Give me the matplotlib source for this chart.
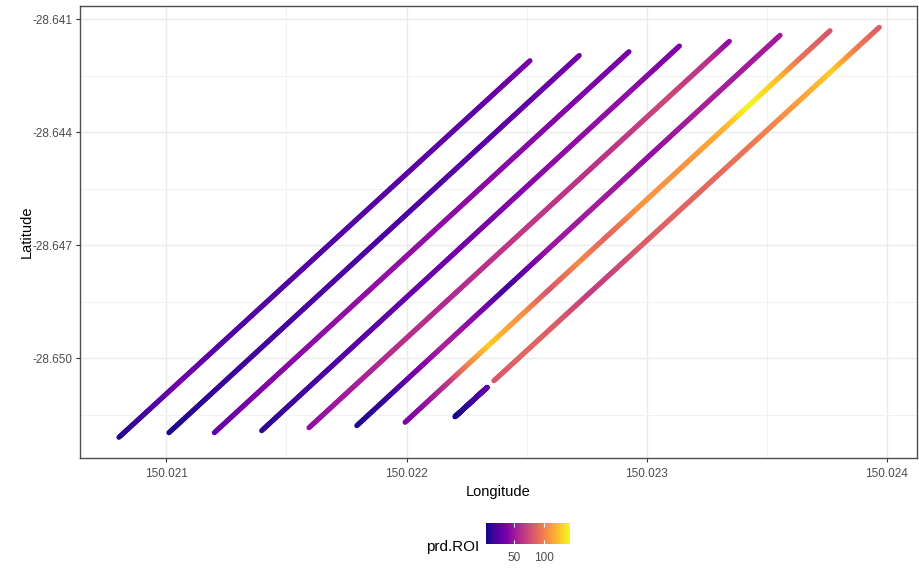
import numpy as np
import matplotlib
matplotlib.use("Agg")
import matplotlib.pyplot as plt
from matplotlib.collections import LineCollection
from matplotlib.colors import Normalize
from matplotlib.ticker import FixedLocator, FuncFormatter

plt.rcParams['font.family'] = ['Liberation Sans', 'DejaVu Sans']

# Harvester passes (decimal degrees). The eighth pass is split in two by a gap.
start_lon = [150.020803, 150.021011, 150.021200, 150.021397, 150.021594,
             150.021793, 150.021994, 150.022202, 150.022364]
start_lat = [-28.652097, -28.651975, -28.651975, -28.651922, -28.651843,
             -28.651789, -28.651699, -28.651551, -28.650595]
end_lon = [150.022514, 150.022719, 150.022926, 150.023136, 150.023344,
           150.023555, 150.023763, 150.022336, 150.023968]
end_lat = [-28.642099, -28.641961, -28.641860, -28.641709, -28.641584,
           -28.641425, -28.641303, -28.650770, -28.641212]

# Predicted ROI along each pass, keyed by longitude
roi_lon = [
    [150.020803, 150.020932, 150.021057, 150.021224, 150.021557, 150.021973,
     150.022306, 150.022514],
    [150.021011, 150.021224, 150.021557, 150.021973, 150.022389, 150.022719],
    [150.021200, 150.021390, 150.021640, 150.021973, 150.022306, 150.022639,
     150.022926],
    [150.021397, 150.021557, 150.021806, 150.022098, 150.022389, 150.022681,
     150.022930, 150.023136],
    [150.021594, 150.021765, 150.021973, 150.022181, 150.022473, 150.022806,
     150.023097, 150.023264, 150.023344],
    [150.021793, 150.021931, 150.022056, 150.022160, 150.022285, 150.022418,
     150.022493, 150.022597, 150.022806, 150.023014, 150.023222, 150.023409,
     150.023555],
    [150.021994, 150.022077, 150.022181, 150.022252, 150.022348, 150.022418,
     150.022502, 150.022597, 150.022722, 150.022835, 150.022972, 150.023180,
     150.023318, 150.023430, 150.023493, 150.023555, 150.023638, 150.023763],
    [150.022202, 150.022264, 150.022336],
    [150.022364, 150.022485, 150.022627, 150.022764, 150.022860, 150.022972,
     150.023110, 150.023318, 150.023526, 150.023667, 150.023776, 150.023876,
     150.023968],
]
roi_val = [
    [7, 20, 34, 23, 23, 25, 27, 37],
    [6, 14, 20, 21, 25, 34],
    [28, 39, 45, 46, 43, 40, 36],
    [11, 17, 25, 31, 38, 45, 45, 37],
    [45, 53, 62, 59, 66, 63, 73, 62, 45],
    [7, 14, 38, 56, 42, 17, 28, 49, 53, 45, 55, 52, 52],
    [38, 45, 66, 98, 129, 115, 104, 80, 104, 87, 108, 108, 118, 143, 133,
     122, 94, 80],
    [3, 14, 28],
    [80, 88, 84, 68, 72, 82, 87, 90, 101, 115, 129, 98, 84],
]

x_ticks = [150.021, 150.022, 150.023, 150.024]
y_ticks = [-28.650, -28.647, -28.644, -28.641]
cbar_ticks = [50, 100]

W, H = 920, 569
fig = plt.figure(figsize=(W / 100, H / 100), dpi=100)
ax = fig.add_axes([80.3 / W, 1 - 458 / H, (917 - 80.3) / W, (458 - 5.7) / H])

all_vals = np.concatenate([np.asarray(v, float) for v in roi_val])
norm = Normalize(vmin=all_vals.min(), vmax=all_vals.max())
cmap = plt.get_cmap('plasma')

mappable = None
for i in range(len(start_lon)):
    # fine subdivision of the pass so the colour can change smoothly along it
    n = 200
    lon = np.linspace(start_lon[i], end_lon[i], n)
    lat = np.linspace(start_lat[i], end_lat[i], n)
    pts = np.column_stack([lon, lat]).reshape(-1, 1, 2)
    segs = np.concatenate([pts[:-1], pts[1:]], axis=1)
    mid_lon = 0.5 * (lon[:-1] + lon[1:])
    vals = np.interp(mid_lon, roi_lon[i], roi_val[i])
    lc = LineCollection(segs, cmap=cmap, norm=norm, linewidths=3.7,
                        capstyle='round', joinstyle='round', zorder=3)
    lc.set_array(vals)
    ax.add_collection(lc)
    mappable = lc

ax.set_xlim(150.020642, 150.024125)
ax.set_ylim(-28.652647, -28.640639)

ax.xaxis.set_major_locator(FixedLocator(x_ticks))
ax.yaxis.set_major_locator(FixedLocator(y_ticks))
ax.xaxis.set_minor_locator(FixedLocator([150.0205, 150.0215, 150.0225, 150.0235]))
ax.yaxis.set_minor_locator(FixedLocator([-28.6515, -28.6485, -28.6455, -28.6425]))
ax.xaxis.set_major_formatter(FuncFormatter(lambda v, p: f"{v:.3f}"))
ax.yaxis.set_major_formatter(FuncFormatter(lambda v, p: f"{v:.3f}".replace('\u2212', '-')))

ax.grid(True, which='major', color='#EBEBEB', linewidth=1.0, zorder=0)
ax.grid(True, which='minor', color='#F2F2F2', linewidth=0.7, zorder=0)
ax.set_axisbelow(True)
ax.tick_params(which='major', length=3, width=0.8, color='#333333',
               labelsize=8.5, labelcolor='#4D4D4D', pad=2.5)
ax.tick_params(axis='x', which='major', pad=4)
ax.tick_params(which='minor', length=0)
for sp in ax.spines.values():
    sp.set_color('#4D4D4D')
    sp.set_linewidth(1.0)

fig.text(498.6 / W, 1 - 492 / H, 'Longitude', ha='center', va='center',
         fontsize=10.5, color='black')
fig.text(27 / W, 1 - 232 / H, 'Latitude', ha='center', va='center',
         rotation=90, fontsize=10.5, color='black')

# colour bar legend at the bottom
cax = fig.add_axes([486 / W, 1 - 544 / H, 84 / W, 21 / H])
cb = fig.colorbar(mappable, cax=cax, orientation='horizontal')
cb.outline.set_visible(False)
cb.set_ticks(cbar_ticks)
cax.tick_params(length=0, labelsize=8.5, labelcolor='#4D4D4D', pad=6)
tr = cax.get_xaxis_transform()
cax.vlines(cbar_ticks, 0, 0.2, color='white', linewidth=0.8, transform=tr)
cax.vlines(cbar_ticks, 0.8, 1.0, color='white', linewidth=0.8, transform=tr)
fig.text(479 / W, 1 - 547 / H, 'prd.ROI', ha='right', va='center',
         fontsize=11, color='black')

fig.savefig('out.png', dpi=100)
